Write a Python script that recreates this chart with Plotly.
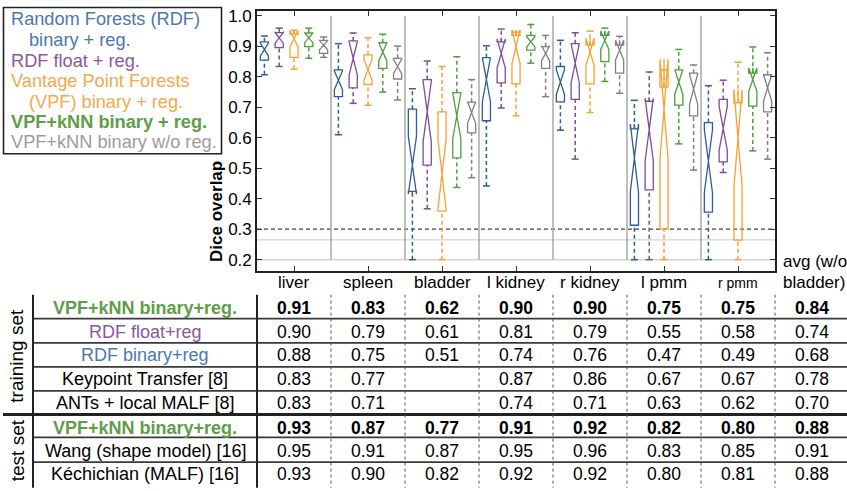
import numpy as np
import plotly.graph_objects as go

# ---------------- data ----------------
organs = ["liver", "spleen", "bladder", "l kidney", "r kidney", "l pmm", "r pmm"]
series_names = ["Random Forests (RDF) binary + reg.", "RDF float + reg.",
                "Vantage Point Forests (VPF) binary + reg.",
                "VPF+kNN binary + reg.", "VPF+kNN binary w/o reg."]

# box statistics per series, one value per organ
rdf_bin_low = [0.807, 0.610, 0.200, 0.442, 0.625, 0.200, 0.200]
rdf_bin_q1 = [0.855, 0.735, 0.424, 0.656, 0.718, 0.313, 0.356]
rdf_bin_med = [0.890, 0.789, 0.510, 0.791, 0.783, 0.534, 0.523]
rdf_bin_q3 = [0.915, 0.823, 0.694, 0.863, 0.834, 0.629, 0.650]
rdf_bin_high = [0.934, 0.909, 0.761, 0.902, 0.920, 0.723, 0.771]

rdf_flt_low = [0.834, 0.713, 0.367, 0.698, 0.530, 0.200, 0.486]
rdf_flt_q1 = [0.896, 0.764, 0.510, 0.780, 0.726, 0.429, 0.521]
rdf_flt_med = [0.928, 0.861, 0.686, 0.877, 0.845, 0.627, 0.631]
rdf_flt_q3 = [0.945, 0.918, 0.791, 0.915, 0.909, 0.720, 0.726]
rdf_flt_high = [0.960, 0.944, 0.852, 0.957, 0.945, 0.816, 0.789]

vpf_low = [0.825, 0.707, 0.200, 0.672, 0.683, 0.200, 0.200]
vpf_q1 = [0.864, 0.775, 0.359, 0.777, 0.777, 0.300, 0.264]
vpf_med = [0.925, 0.823, 0.481, 0.899, 0.882, 0.694, 0.599]
vpf_q3 = [0.940, 0.872, 0.685, 0.936, 0.904, 0.766, 0.715]
vpf_high = [0.953, 0.928, 0.834, 0.947, 0.950, 0.823, 0.848]

knn_low = [0.861, 0.750, 0.437, 0.845, 0.785, 0.580, 0.557]
knn_q1 = [0.899, 0.828, 0.534, 0.888, 0.850, 0.707, 0.704]
knn_med = [0.928, 0.882, 0.672, 0.915, 0.920, 0.783, 0.791]
knn_q3 = [0.944, 0.912, 0.748, 0.936, 0.936, 0.823, 0.812]
knn_high = [0.960, 0.940, 0.866, 0.972, 0.960, 0.890, 0.898]

knn_noreg_low = [0.864, 0.724, 0.469, 0.735, 0.746, 0.494, 0.530]
knn_noreg_q1 = [0.877, 0.793, 0.616, 0.828, 0.812, 0.672, 0.685]
knn_noreg_med = [0.904, 0.834, 0.683, 0.877, 0.888, 0.760, 0.764]
knn_noreg_q3 = [0.920, 0.861, 0.717, 0.899, 0.904, 0.812, 0.807]
knn_noreg_high = [0.931, 0.901, 0.791, 0.936, 0.933, 0.839, 0.879]

n_samples = 20  # subjects per box (used for notch size, 1.57*IQR/sqrt(n))

y_ticks = [0.2, 0.3, 0.4, 0.5, 0.6, 0.7, 0.8, 0.9, 1.0]

# table
table_cols = organs + ["avg (w/o bladder)"]
row_labels = ["VPF+kNN binary+reg.", "RDF float+reg", "RDF binary+reg",
              "Keypoint Transfer [8]", "ANTs + local MALF [8]",
              "VPF+kNN binary+reg.", "Wang (shape model) [16]", "Kéchichian (MALF) [16]"]
row_vpf_train = ["0.91", "0.83", "0.62", "0.90", "0.90", "0.75", "0.75", "0.84"]
row_rdf_float = ["0.90", "0.79", "0.61", "0.81", "0.79", "0.55", "0.58", "0.74"]
row_rdf_bin = ["0.88", "0.75", "0.51", "0.74", "0.76", "0.47", "0.49", "0.68"]
row_keypoint = ["0.83", "0.77", "", "0.87", "0.86", "0.67", "0.67", "0.78"]
row_ants = ["0.83", "0.71", "", "0.74", "0.71", "0.63", "0.62", "0.70"]
row_vpf_test = ["0.93", "0.87", "0.77", "0.91", "0.92", "0.82", "0.80", "0.88"]
row_wang = ["0.95", "0.91", "0.87", "0.95", "0.96", "0.83", "0.85", "0.91"]
row_kech = ["0.93", "0.90", "0.82", "0.92", "0.92", "0.80", "0.81", "0.88"]

# ---------------- styling ----------------
FONT = "Liberation Sans, Arial, Helvetica, sans-serif"
box_colors = ["#2D5D9C", "#7E4D96", "#F8A032", "#4E9E3E", "#808080"]
text_colors = ["#4A78AE", "#8B579E", "#F2AA4C", "#5E9E48", "#9C9C9C"]
offsets = [-0.4, -0.2, 0.0, 0.2, 0.4]

stats = [
    (rdf_bin_low, rdf_bin_q1, rdf_bin_med, rdf_bin_q3, rdf_bin_high),
    (rdf_flt_low, rdf_flt_q1, rdf_flt_med, rdf_flt_q3, rdf_flt_high),
    (vpf_low, vpf_q1, vpf_med, vpf_q3, vpf_high),
    (knn_low, knn_q1, knn_med, knn_q3, knn_high),
    (knn_noreg_low, knn_noreg_q1, knn_noreg_med, knn_noreg_q3, knn_noreg_high),
]

# pixel geometry of the plot area
L, R, T, B = 257, 775, 7, 271
W, H = 847, 491
YMIN = 0.2 - 11.5 / 309.0
YMAX = 1.0 + 5.0 / 309.0
XMIN, XMAX = 0.5, 7.5
UNIT = (R - L) / (XMAX - XMIN)


def xp(px):
    return (px - L) / (R - L)


def yp(py):
    return (B - py) / (B - T)


def col_x(c):
    # paper x for the centre of column c (0-based, category c+1)
    return xp(L + (c + 1 - XMIN) * UNIT)


fig = go.Figure()

group_pos = np.arange(1, len(organs) + 1)
for i, (name, (lo, q1, med, q3, hi)) in enumerate(zip(series_names, stats)):
    pos = group_pos + offsets[i]
    q1a, q3a = np.array(q1), np.array(q3)
    notch = 1.57 * (q3a - q1a) / np.sqrt(n_samples)
    col = box_colors[i]
    fig.add_trace(go.Box(
        x=pos, q1=q1, median=med, q3=q3, lowerfence=q1, upperfence=q3,
        notched=True, notchspan=notch, notchwidth=0.5, width=0.11,
        fillcolor="rgba(0,0,0,0)", line=dict(color=col, width=1.3),
        boxpoints=False, name=name, showlegend=False, hoverinfo="skip",
        whiskerwidth=0))
    # dashed whiskers
    wx, wy = [], []
    for p, a, b, c, d in zip(pos, lo, q1, q3, hi):
        wx += [p, p, None, p, p, None]
        wy += [a, b, None, c, d, None]
    fig.add_trace(go.Scatter(x=wx, y=wy, mode="lines", showlegend=False,
                             hoverinfo="skip",
                             line=dict(color=col, width=1.5, dash="4px,3px")))
    # whisker caps
    fig.add_trace(go.Scatter(x=list(pos) + list(pos), y=list(lo) + list(hi),
                             mode="markers", showlegend=False, hoverinfo="skip",
                             marker=dict(symbol="line-ew", size=5, color=col,
                                         line=dict(color=col, width=1.5))))

shapes = []
# separators between organ groups
for s in np.arange(1.5, len(organs), 1.0):
    shapes.append(dict(type="line", xref="x", yref="y", x0=s, x1=s, y0=0.2, y1=1.0,
                       line=dict(color="#A9A9A9", width=1.5), layer="below"))
# horizontal reference lines
shapes.append(dict(type="line", xref="paper", yref="y", x0=0, x1=1, y0=0.2, y1=0.2,
                   line=dict(color="#D4D4D4", width=1.5), layer="below"))
shapes.append(dict(type="line", xref="paper", yref="y", x0=0, x1=1, y0=0.265, y1=0.265,
                   line=dict(color="#C8C8C8", width=1), layer="below"))
shapes.append(dict(type="line", xref="paper", yref="y", x0=0, x1=1, y0=0.3, y1=0.3,
                   line=dict(color="#444444", width=1.2, dash="4px,3px"), layer="below"))

# legend frame
shapes.append(dict(type="rect", xref="paper", yref="paper", x0=xp(3.5), x1=xp(221.5),
                   y0=yp(152), y1=yp(3.5), line=dict(color="#222222", width=1.6)))

# table lines
row_y = [308.3, 332.7, 356.7, 380.7, 405.0, 430.0, 453.3, 477.3]
line_y = [319.3, 344.0, 368.3, 392.7, 440.0, 465.0]
for ly in line_y:
    shapes.append(dict(type="line", xref="paper", yref="paper", x0=xp(33), x1=xp(847),
                       y0=yp(ly), y1=yp(ly), line=dict(color="#3A3A3A", width=1.8)))
shapes.append(dict(type="line", xref="paper", yref="paper", x0=xp(3), x1=xp(847),
                   y0=yp(416.7), y1=yp(416.7), line=dict(color="#222222", width=3)))
for vx in [33, 257]:
    shapes.append(dict(type="line", xref="paper", yref="paper", x0=xp(vx), x1=xp(vx),
                       y0=yp(295), y1=yp(491), line=dict(color="#222222", width=2)))
for c in range(len(table_cols) - 1):
    sx = xp(L + (c + 1.5 - XMIN) * UNIT)
    shapes.append(dict(type="line", xref="paper", yref="paper", x0=sx, x1=sx,
                       y0=yp(295), y1=yp(491), line=dict(color="#555555", width=1, dash="dot")))

annotations = []
# legend text
legend_lines = [
    ("Random Forests (RDF)", 9, 15, text_colors[0], False),
    ("binary + reg.", 27, 36.5, text_colors[0], False),
    ("RDF float + reg.", 9, 58, text_colors[1], False),
    ("Vantage Point Forests", 9, 78.5, text_colors[2], False),
    ("(VPF) binary + reg.", 27, 99.5, text_colors[2], False),
    ("VPF+kNN binary + reg.", 9, 120, text_colors[3], True),
    ("VPF+kNN binary w/o reg.", 9, 140.5, text_colors[4], False),
]
for txt, lx, ly, c, bold in legend_lines:
    annotations.append(dict(text=f"<b>{txt}</b>" if bold else txt, xref="paper", yref="paper",
                            x=xp(lx), y=yp(ly), xanchor="left", yanchor="middle",
                            showarrow=False, font=dict(family=FONT, size=18.2, color=c)))

# y-axis title
annotations.append(dict(text="<b>Dice overlap</b>", xref="paper", yref="paper",
                        x=xp(217), y=yp(211), textangle=-90, showarrow=False,
                        xanchor="center", yanchor="middle",
                        font=dict(family=FONT, size=17, color="black")))

# column headers (organ names under the x axis)
for c, o in enumerate(organs):
    annotations.append(dict(text=o, xref="paper", yref="paper", x=col_x(c), y=yp(283),
                            xanchor="center", yanchor="middle", showarrow=False,
                            font=dict(family=FONT, size=14 if o == "r pmm" else 17,
                                      color="black")))
# avg header
annotations.append(dict(text="avg (w/o", xref="paper", yref="paper", x=xp(781), y=yp(261),
                        xanchor="left", yanchor="middle", showarrow=False,
                        font=dict(family=FONT, size=17, color="black")))
annotations.append(dict(text="bladder)", xref="paper", yref="paper", x=xp(781), y=yp(283),
                        xanchor="left", yanchor="middle", showarrow=False,
                        font=dict(family=FONT, size=17, color="black")))

# table rows
rows = [row_vpf_train, row_rdf_float, row_rdf_bin, row_keypoint, row_ants,
        row_vpf_test, row_wang, row_kech]
label_colors = [text_colors[3], text_colors[1], text_colors[0], "black", "black",
                text_colors[3], "black", "black"]
bold_rows = [True, False, False, False, False, True, False, False]
for r, (lab, vals, ry) in enumerate(zip(row_labels, rows, row_y)):
    b = bold_rows[r]
    annotations.append(dict(text=f"<b>{lab}</b>" if b else lab, xref="paper", yref="paper",
                            x=xp(145), y=yp(ry), xanchor="center", yanchor="middle",
                            showarrow=False,
                            font=dict(family=FONT, size=18, color=label_colors[r])))
    for c, v in enumerate(vals):
        if not v:
            continue
        annotations.append(dict(text=f"<b>{v}</b>" if b else v, xref="paper", yref="paper",
                                x=col_x(c), y=yp(ry), xanchor="center", yanchor="middle",
                                showarrow=False,
                                font=dict(family=FONT, size=17.5, color="black")))

annotations.append(dict(text="training set", xref="paper", yref="paper", x=xp(17), y=yp(357),
                        textangle=-90, showarrow=False, xanchor="center", yanchor="middle",
                        font=dict(family=FONT, size=19, color="black")))
annotations.append(dict(text="test set", xref="paper", yref="paper", x=xp(17), y=yp(453),
                        textangle=-90, showarrow=False, xanchor="center", yanchor="middle",
                        font=dict(family=FONT, size=19, color="black")))

fig.update_layout(
    width=W, height=H,
    margin=dict(l=L, r=W - R, t=T, b=H - B, pad=0),
    paper_bgcolor="white", plot_bgcolor="white",
    boxmode="overlay",
    shapes=shapes, annotations=annotations,
    font=dict(family=FONT, color="black"),
    xaxis=dict(range=[XMIN, XMAX], tickvals=list(group_pos), showticklabels=False,
               ticks="inside", ticklen=5, tickcolor="#333", tickwidth=1.3,
               showline=True, linecolor="#222", linewidth=1.6, mirror="ticks",
               showgrid=False, zeroline=False),
    yaxis=dict(range=[YMIN, YMAX], tickvals=y_ticks,
               ticktext=[f"{v:.1f}" for v in y_ticks],
               ticks="inside", ticklen=5, tickcolor="#333", tickwidth=1.3,
               showline=True, linecolor="#222", linewidth=1.6, mirror="ticks",
               showgrid=False, zeroline=False, tickfont=dict(size=17)),
)

fig.write_html("out.html", post_script="document.body.style.margin='0';",
               config={"displayModeBar": False})
